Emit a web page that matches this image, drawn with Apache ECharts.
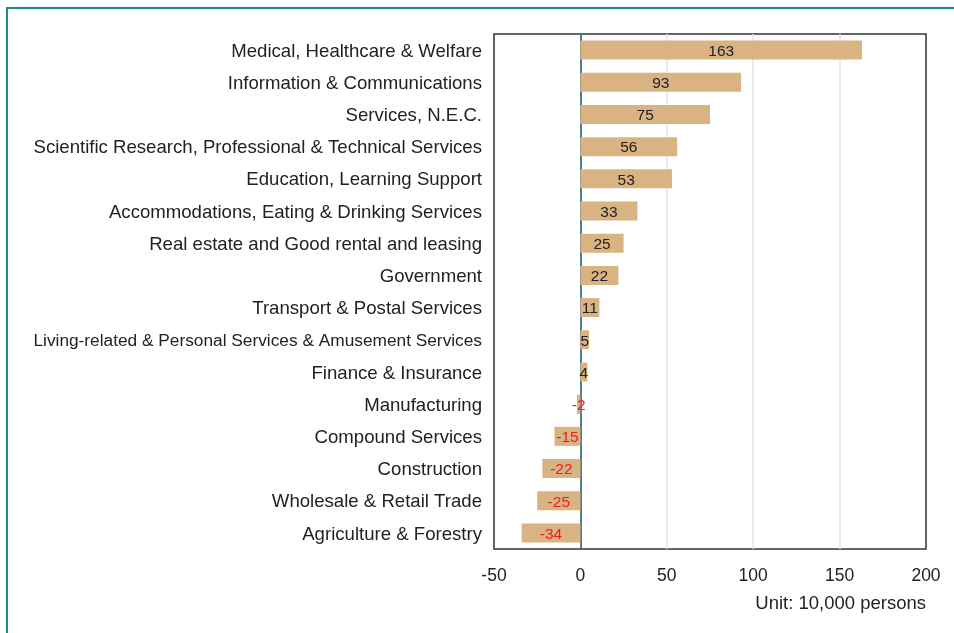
<!DOCTYPE html>
<html>
<head>
<meta charset="utf-8">
<script src="https://cdn.jsdelivr.net/npm/echarts@6/dist/echarts.min.js"></script>
<style>
html,body{margin:0;padding:0;background:#fff;}
#frame{position:absolute;left:6px;top:7px;width:948px;height:626px;border-left:2px solid #1b8a91;border-top:2px solid #1b8a91;box-sizing:border-box;}
#chart{position:absolute;left:0;top:0;width:954px;height:633px;}
</style>
</head>
<body>
<div id="frame"></div>
<div id="chart"></div>
<script>
const categories = [
  "Medical, Healthcare & Welfare",
  "Information & Communications",
  "Services, N.E.C.",
  "Scientific Research, Professional & Technical Services",
  "Education, Learning Support",
  "Accommodations, Eating & Drinking Services",
  "Real estate and Good rental and leasing",
  "Government",
  "Transport & Postal Services",
  "Living-related & Personal Services & Amusement Services",
  "Finance & Insurance",
  "Manufacturing",
  "Compound Services",
  "Construction",
  "Wholesale & Retail Trade",
  "Agriculture & Forestry"
];
const values = [163, 93, 75, 56, 53, 33, 25, 22, 11, 5, 4, -2, -15, -22, -25, -34];
const xTicks = [-50, 0, 50, 100, 150, 200];
const unitText = "Unit: 10,000 persons";

const FONT = 'Liberation Sans, Arial, Helvetica, sans-serif';
const chart = echarts.init(document.getElementById('chart'));
chart.setOption({
  animation: false,
  grid: {left: 494, right: 28, top: 34, bottom: 84, show: true, borderColor: '#333', borderWidth: 1.5, containLabel: false},
  xAxis: {
    type: 'value', min: xTicks[0], max: xTicks[xTicks.length - 1], interval: 50,
    axisLine: {show: false}, axisTick: {show: false},
    axisLabel: {color: '#222', fontSize: 17.5, fontFamily: FONT, margin: 18},
    splitLine: {show: true, showMinLine: false, showMaxLine: false, lineStyle: {color: '#e4e4e4', width: 1.5}}
  },
  yAxis: {
    type: 'category', data: categories, inverse: true,
    axisLine: {show: true, onZero: true, lineStyle: {color: '#1f5a6c', width: 1.5}},
    axisTick: {show: false},
    axisLabel: {
      color: '#222', fontSize: 18.6, fontFamily: FONT, margin: 12, interval: 0,
      padding: [3, 0, 0, 0],
      formatter: function (v) { return v.length > 54 ? '{s|' + v + '}' : v; },
      rich: {s: {fontSize: 17.3, fontFamily: FONT, color: '#222'}}
    }
  },
  graphic: [{
    type: 'text', right: 28, top: 594,
    style: {text: unitText, fill: '#222', fontSize: 18.5, fontFamily: FONT, textAlign: 'right'}
  }],
  series: [{
    type: 'bar', data: values.map(v => ({value: v, label: {color: v < 0 ? '#ee1c25' : '#222'}})),
    barWidth: '59%',
    itemStyle: {color: '#d9b382'},
    label: {show: true, position: 'inside', fontSize: 15.5, fontFamily: FONT, offset: [0, 1.5]},
    z: 1
  }]
});
</script>
</body>
</html>
